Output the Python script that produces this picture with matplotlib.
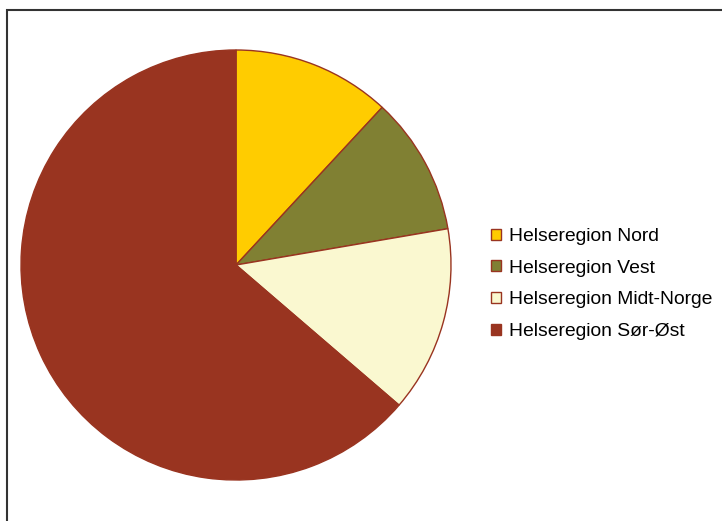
import matplotlib.pyplot as plt
from matplotlib.patches import Rectangle

# Data
regions = ["Helseregion Nord", "Helseregion Vest",
           "Helseregion Midt-Norge", "Helseregion Sør-Øst"]
shares = [11.9, 10.4, 14.0, 63.7]
colors = ["#FFCC00", "#808033", "#FAF8D0", "#993420"]


def main():
    plt.rcParams['font.family'] = ['Liberation Sans', 'DejaVu Sans']
    W, H = 722, 521
    fig = plt.figure(figsize=(W / 100, H / 100), dpi=100)

    # outer frame (right/bottom edges cut off in the original)
    fig.add_artist(Rectangle((6.5 / W, -0.1), 1.2, 1.1 - 9.5 / H,
                             transform=fig.transFigure, fill=False,
                             edgecolor="#333333", linewidth=1.5))

    cx, cy, r = 236, 265, 215
    ax = fig.add_axes([(cx - r) / W, 1 - (cy + r) / H, 2 * r / W, 2 * r / H])
    wedges, _ = ax.pie(shares, colors=colors, startangle=90, counterclock=False,
                       radius=1.0,
                       wedgeprops=dict(edgecolor="#993420", linewidth=1.0))
    ax.set_xlim(-1.0, 1.0)
    ax.set_ylim(-1.0, 1.0)
    ax.set_aspect("equal")

    fig.legend(wedges, regions, loc="upper left",
               bbox_to_anchor=(491 / W, 1 - 228 / H),
               frameon=False, fontsize=13.9,
               handlelength=0.52, handleheight=0.52,
               handletextpad=0.4, labelspacing=0.76,
               borderpad=0, borderaxespad=0)

    fig.savefig("out.png", dpi=100)


if __name__ == "__main__":
    main()
